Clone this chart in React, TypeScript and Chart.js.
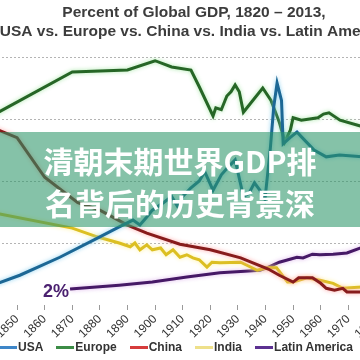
import React, { useEffect, useRef } from 'react';
import { Chart, registerables } from 'chart.js';

Chart.register(...registerables);

const titleLines = ['Percent of Global GDP, 1820 – 2013,', 'USA vs. Europe vs. China vs. India vs. Latin America'];
const overlayLines = ['清朝末期世界GDP排', '名背后的历史背景深'];
const seriesNames = ['USA', 'Europe', 'China', 'India', 'Latin America'];
const lineColors = ['#1c6795', '#266626', '#871c1c', '#dcbf22', '#461966'];
const glowColors = ['rgba(130,205,240,0.9)', 'rgba(160,230,160,0.9)', 'rgba(255,160,160,0.9)', 'rgba(255,240,150,0.95)', 'rgba(220,175,235,0.9)'];
const legendColors = ['#3e86c8', '#3c8c46', '#d63c3c', '#eee08a', '#5c3191'];
const latinStartLabel = '2%';

const xMinYear = 1820;
const xMaxYear = 2013;
const xTickStep = 10;
const yMin = 0;
const yMax = 40;
const yStep = 10;

const usaYears = [1840, 1851, 1865.5, 1880, 1887, 1892, 1894.5, 1897, 1899, 1903, 1906, 1908, 1910, 1913, 1916, 1918, 1920, 1921, 1924, 1926, 1929, 1932, 1934, 1936, 1938, 1939.8, 1941.7, 1943, 1944.2, 1945.8, 1946.4, 1948.9, 1951.4, 1953.3, 1957.6, 1962, 1966.8, 1975];
const usaValues = [3.0, 4.8, 7.7, 11.0, 12.6, 13.7, 12.9, 14.2, 15.3, 16.5, 17.5, 16.0, 17.5, 18.9, 20.0, 21.5, 19.5, 18.5, 21.0, 22.0, 23.4, 17.5, 18.0, 19.7, 18.5, 17.0, 25.0, 32.0, 35.8, 33.0, 26.0, 27.0, 27.9, 27.0, 25.0, 23.9, 24.2, 23.9];

const europeYears = [1840, 1870, 1890, 1900, 1906, 1913, 1916, 1921, 1922, 1924, 1926, 1927.5, 1929, 1930.5, 1932, 1939, 1942, 1945, 1947, 1949, 1950, 1953, 1956, 1959, 1961, 1963, 1967, 1975];
const europeValues = [30.3, 37.6, 37.9, 39.4, 38.4, 37.9, 35.2, 30.5, 31.8, 31.5, 33.7, 34.4, 35.5, 34.4, 31.1, 35.0, 33.0, 29.5, 26.3, 28.2, 30.2, 29.8, 30.0, 30.2, 30.8, 31.0, 29.8, 28.8];

const chinaYears = [1840, 1850, 1860, 1872, 1880, 1890, 1897, 1909, 1920, 1931, 1937, 1941, 1945, 1950, 1952, 1957, 1960, 1962, 1965, 1968, 1969.5, 1975];
const chinaValues = [28.8, 27.0, 20.6, 16.5, 15.3, 12.9, 11.6, 9.8, 8.9, 7.6, 6.5, 5.8, 4.8, 3.7, 4.4, 4.4, 3.5, 2.7, 2.4, 2.7, 2.1, 2.1];

const indiaYears = [1840, 1870, 1879, 1887, 1891, 1892.7, 1894.5, 1897, 1899, 1902, 1904, 1906.5, 1909, 1911.5, 1913.7, 1916, 1918.8, 1920.6, 1923.5, 1931, 1937, 1940.5, 1944, 1948, 1950, 1955, 1959.7, 1964.5, 1968, 1975];
const indiaValues = [15.0, 12.4, 11.0, 10.0, 9.4, 10.0, 8.9, 9.7, 8.9, 9.2, 8.1, 8.9, 7.7, 8.1, 7.6, 7.3, 6.1, 6.9, 6.8, 6.9, 5.6, 6.0, 6.0, 3.7, 3.7, 4.4, 4.0, 3.5, 2.7, 2.9];

const latinYears = [1869.2, 1887, 1899, 1911.5, 1923.5, 1931, 1938, 1940.5, 1945, 1951.4, 1953.6, 1957, 1959.7, 1964.5, 1969.5, 1975];
const latinValues = [2.6, 3.2, 3.7, 4.5, 5.2, 5.4, 5.6, 6.0, 6.9, 7.7, 7.6, 8.2, 8.1, 8.2, 8.4, 9.3];

const seriesYears = [usaYears, europeYears, chinaYears, indiaYears, latinYears];
const seriesValues = [usaValues, europeValues, chinaValues, indiaValues, latinValues];

const FONT = '"Liberation Sans", Arial, sans-serif';
const CANVAS_W = 566;
const CANVAS_H = 360;
const CANVAS_SHIFT = 89;

function toPoints(years: number[], values: number[]) {
  return years.map((x, i) => ({ x, y: values[i] }));
}

export default function App() {
  const ref = useRef<HTMLCanvasElement | null>(null);

  useEffect(() => {
    if (!ref.current) return;
    const glowPlugin = {
      id: 'glow',
      beforeDatasetDraw(chart: any, args: any) {
        const ds = chart.data.datasets[args.index];
        chart.ctx.save();
        chart.ctx.shadowColor = ds.glowColor;
        chart.ctx.shadowBlur = 4;
      },
      afterDatasetDraw(chart: any) {
        chart.ctx.restore();
      },
    };
    const startLabelPlugin = {
      id: 'startLabel',
      afterDatasetsDraw(chart: any) {
        const meta = chart.getDatasetMeta(4);
        const p = meta.data[0];
        if (!p) return;
        const ctx = chart.ctx;
        ctx.save();
        ctx.font = `bold 18px ${FONT}`;
        ctx.fillStyle = '#4b2170';
        ctx.textAlign = 'right';
        ctx.textBaseline = 'middle';
        ctx.fillText(latinStartLabel, p.x - 1, p.y + 3);
        ctx.restore();
      },
    };

    const chart = new Chart(ref.current, {
      type: 'line',
      data: {
        datasets: seriesNames.map((name, i) => ({
          label: name,
          data: toPoints(seriesYears[i], seriesValues[i]),
          borderColor: lineColors[i],
          backgroundColor: lineColors[i],
          borderWidth: 3,
          pointRadius: 0,
          tension: 0,
          fill: false,
          glowColor: glowColors[i],
        })) as any,
      },
      options: {
        responsive: false,
        animation: false,
        layout: { padding: { left: 10, right: 10, top: 0, bottom: 15 } },
        plugins: {
          legend: { display: false },
          tooltip: { enabled: false },
          title: {
            display: true,
            text: titleLines,
            color: '#3c3c3c',
            font: { family: FONT, size: 15.5, weight: 'bold', lineHeight: 1.25 },
            padding: { top: 3, bottom: 15.25 },
          },
        },
        scales: {
          x: {
            type: 'linear',
            min: xMinYear,
            max: xMaxYear,
            border: { display: false },
            grid: { drawOnChartArea: false, drawTicks: true, tickLength: 5, color: '#9a9a9a' },
            ticks: {
              stepSize: xTickStep,
              includeBounds: false,
              autoSkip: false,
              minRotation: 45,
              maxRotation: 45,
              padding: 2,
              color: '#333',
              font: { family: FONT, size: 12 },
              callback: (v: any) => (v < 1840 || v > 1990 ? '' : String(v)),
            },
            afterFit: (s: any) => { s.height = 40; },
          },
          y: {
            min: yMin,
            max: yMax,
            border: { display: false, dash: [2, 2] },
            grid: {
              drawTicks: false,
              color: (c: any) => (c.tick && c.tick.value === 0 ? 'rgba(0,0,0,0)' : '#b4b4b4'),
              lineWidth: 1,
            },
            ticks: { display: false, stepSize: yStep },
            afterFit: (s: any) => { s.width = 13.25; },
          },
        },
      } as any,
      plugins: [glowPlugin, startLabelPlugin],
    });
    return () => chart.destroy();
  }, []);

  return (
    <div style={{ position: 'fixed', left: 0, top: 0, width: 360, height: 360, overflow: 'hidden', background: '#fff' }}>
      <canvas
        ref={ref}
        width={CANVAS_W}
        height={CANVAS_H}
        style={{ position: 'absolute', left: -CANVAS_SHIFT, top: 0, width: CANVAS_W, height: CANVAS_H }}
      />
      <div
        style={{
          position: 'absolute', left: 0, top: 132, width: 360, height: 95,
          background: 'rgba(45,150,105,0.58)', color: '#fff',
          fontFamily: '"Noto Sans CJK SC", sans-serif', fontWeight: 700, fontSize: 30,
          lineHeight: '42px', textAlign: 'center', paddingTop: 7, boxSizing: 'border-box',
          whiteSpace: 'nowrap',
        }}
      >
        {overlayLines.map((t) => (<div key={t}>{t}</div>))}
      </div>
      <div
        style={{
          position: 'absolute', left: -1, top: 339, display: 'flex', alignItems: 'center', gap: 13,
          fontFamily: FONT, fontWeight: 700, fontSize: 12, color: '#333', whiteSpace: 'nowrap', lineHeight: '16px',
        }}
      >
        {seriesNames.map((n, i) => (
          <div key={n} style={{ display: 'flex', alignItems: 'center' }}>
            <span style={{ display: 'inline-block', width: 18, height: 3, background: legendColors[i], marginRight: 1 }} />
            <span>{n}</span>
          </div>
        ))}
      </div>
    </div>
  );
}
